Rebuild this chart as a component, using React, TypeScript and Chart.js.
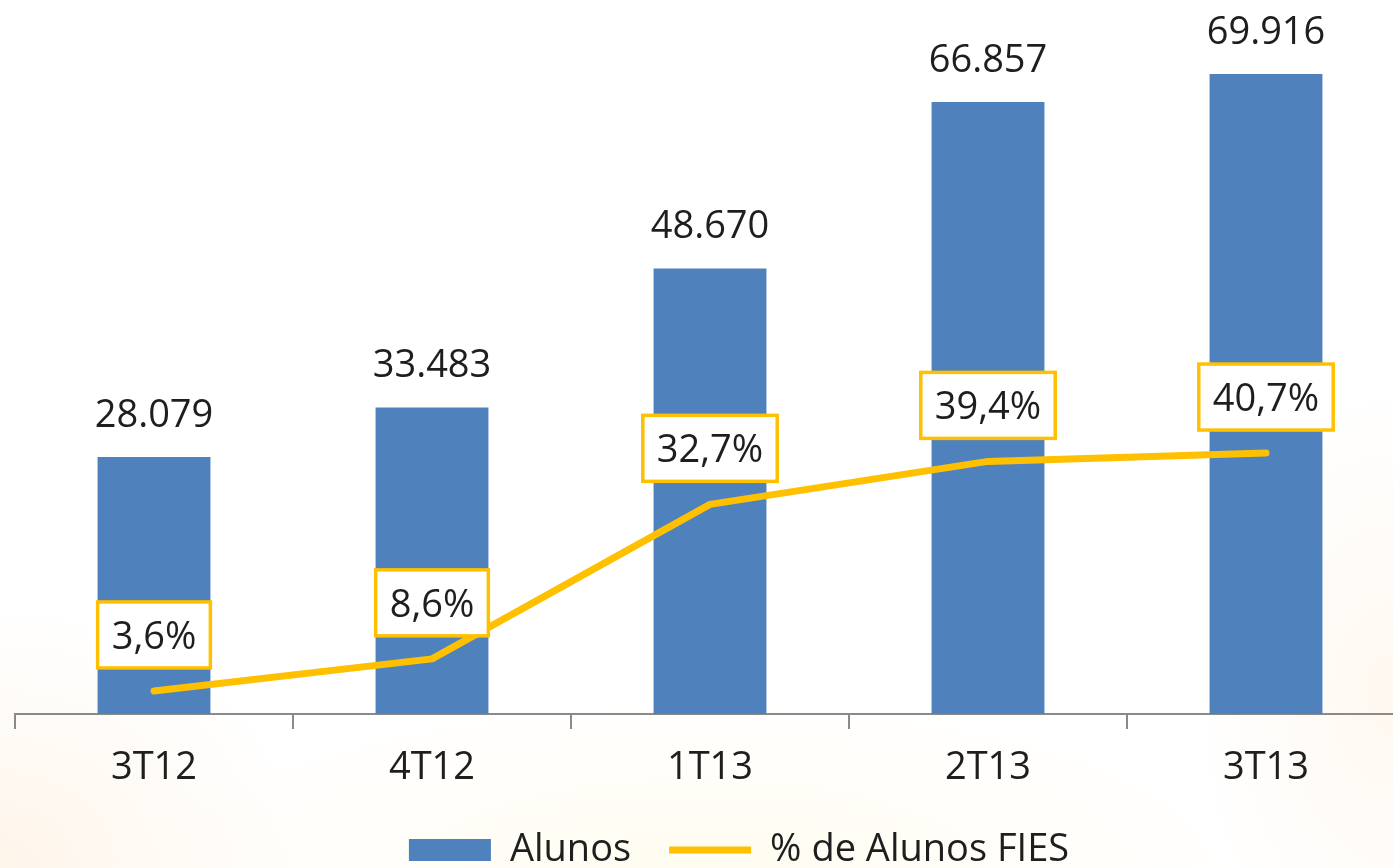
import React, { useEffect, useRef } from "react";
import { Chart, registerables } from "chart.js";

Chart.register(...registerables);

const categories = ["3T12", "4T12", "1T13", "2T13", "3T13"];
const alunos = [28079, 33483, 48670, 66857, 69916];
const percentFies = [3.6, 8.6, 32.7, 39.4, 40.7];
const seriesNames = ["Alunos", "% de Alunos FIES"];

const BLUE = "#4F81BD";
const GOLD = "#FFC000";
const TEXT = "#1E1E1E";
const AXIS = "#8A8A8A";
const FONT = "'Open Sans', 'Noto Sans', sans-serif";
const FS = 38;

const fmtThousands = (v: number) => {
  const s = String(Math.round(v));
  return s.replace(/\B(?=(\d{3})+(?!\d))/g, ".");
};
const fmtPct = (v: number) => v.toFixed(1).replace(".", ",") + "%";

const labelsPlugin = {
  id: "valueLabels",
  afterDatasetsDraw(chart: any) {
    const ctx = chart.ctx as CanvasRenderingContext2D;
    ctx.save();
    ctx.font = `${FS}px ${FONT}`;
    ctx.textAlign = "center";
    ctx.textBaseline = "alphabetic";
    const barMeta = chart.getDatasetMeta(0);
    barMeta.data.forEach((el: any, i: number) => {
      ctx.fillStyle = TEXT;
      ctx.fillText(fmtThousands(alunos[i]), el.x, el.y - 30);
    });
    const lineMeta = chart.getDatasetMeta(1);
    lineMeta.data.forEach((el: any, i: number) => {
      const txt = fmtPct(percentFies[i]);
      const tw = ctx.measureText(txt).width;
      const w = tw + 28;
      const h = 66;
      const cx = el.x;
      const cy = el.y - 56;
      ctx.fillStyle = "#FFFFFF";
      ctx.fillRect(cx - w / 2, cy - h / 2, w, h);
      ctx.lineWidth = 3.5;
      ctx.strokeStyle = GOLD;
      ctx.strokeRect(cx - w / 2, cy - h / 2, w, h);
      ctx.fillStyle = TEXT;
      ctx.fillText(txt, cx, cy + 14);
    });
    ctx.restore();
  },
};

// nudges the built-in legend to the right, as in the reference
const legendShiftPlugin = {
  id: "legendShift",
  afterLayout(chart: any) {
    const lg = chart.legend;
    if (lg) {
      lg.left += 29;
      lg.right += 29;
    }
  },
};

export default function App() {
  const ref = useRef<HTMLCanvasElement>(null);

  useEffect(() => {
    document.body.style.margin = "0";
    const canvas = ref.current!;
    const chart = new Chart(canvas, {
      type: "bar",
      data: {
        labels: categories,
        datasets: [
          {
            type: "bar",
            label: seriesNames[0],
            data: alunos,
            backgroundColor: BLUE,
            borderWidth: 0,
            categoryPercentage: 1,
            barPercentage: 0.406,
            yAxisID: "y",
            order: 1,
            pointStyle: "rect",
          } as any,
          {
            type: "line",
            label: seriesNames[1],
            data: percentFies,
            borderColor: GOLD,
            backgroundColor: GOLD,
            borderWidth: 7,
            borderCapStyle: "round",
            borderJoinStyle: "round",
            pointRadius: 0,
            pointStyle: "line",
            tension: 0,
            yAxisID: "y1",
            order: 0,
          } as any,
        ],
      },
      options: {
        responsive: false,
        animation: false,
        devicePixelRatio: 1,
        layout: { padding: { left: 15, right: 15, top: 10, bottom: 0 } },
        plugins: {
          tooltip: { enabled: false },
          legend: {
            display: true,
            position: "bottom",
            labels: {
              usePointStyle: true,
              pointStyleWidth: 82,
              boxHeight: 22,
              padding: 38,
              color: TEXT,
              font: { family: FONT, size: FS },
              sort: (a: any, b: any) => a.datasetIndex - b.datasetIndex,
            },
          },
        },
        scales: {
          x: {
            offset: true,
            grid: {
              offset: true,
              drawOnChartArea: false,
              drawTicks: true,
              tickLength: 15,
              color: AXIS,
              lineWidth: 2,
            },
            border: { display: true, color: AXIS, width: 2 },
            ticks: {
              color: TEXT,
              font: { family: FONT, size: FS },
              padding: 16,
              maxRotation: 0,
            },
            afterFit: (scale: any) => {
              scale.height = 79;
            },
          },
          y: {
            display: false,
            min: 0,
            max: 76900,
          },
          y1: {
            display: false,
            position: "right",
            min: 0,
            max: 109.8,
          },
        },
      },
      plugins: [labelsPlugin, legendShiftPlugin],
    });
    return () => chart.destroy();
  }, []);

  return (
    <div
      style={{
        position: "relative",
        width: 1393,
        height: 868,
        overflow: "hidden",
        background:
          "radial-gradient(ellipse 22% 30% at 0% 100%, rgba(250,205,150,0.2), rgba(255,255,255,0) 100%)," +
          "radial-gradient(ellipse 14% 35% at 100% 80%, rgba(250,210,160,0.16), rgba(255,255,255,0) 100%)," +
          "radial-gradient(ellipse 40% 20% at 50% 100%, rgba(255,245,205,0.3), rgba(255,255,255,0) 100%)," +
          "#ffffff",
      }}
    >
      <canvas
        ref={ref}
        width={1420}
        height={879}
        style={{ display: "block", position: "absolute", left: 0, top: 0 }}
      />
    </div>
  );
}
